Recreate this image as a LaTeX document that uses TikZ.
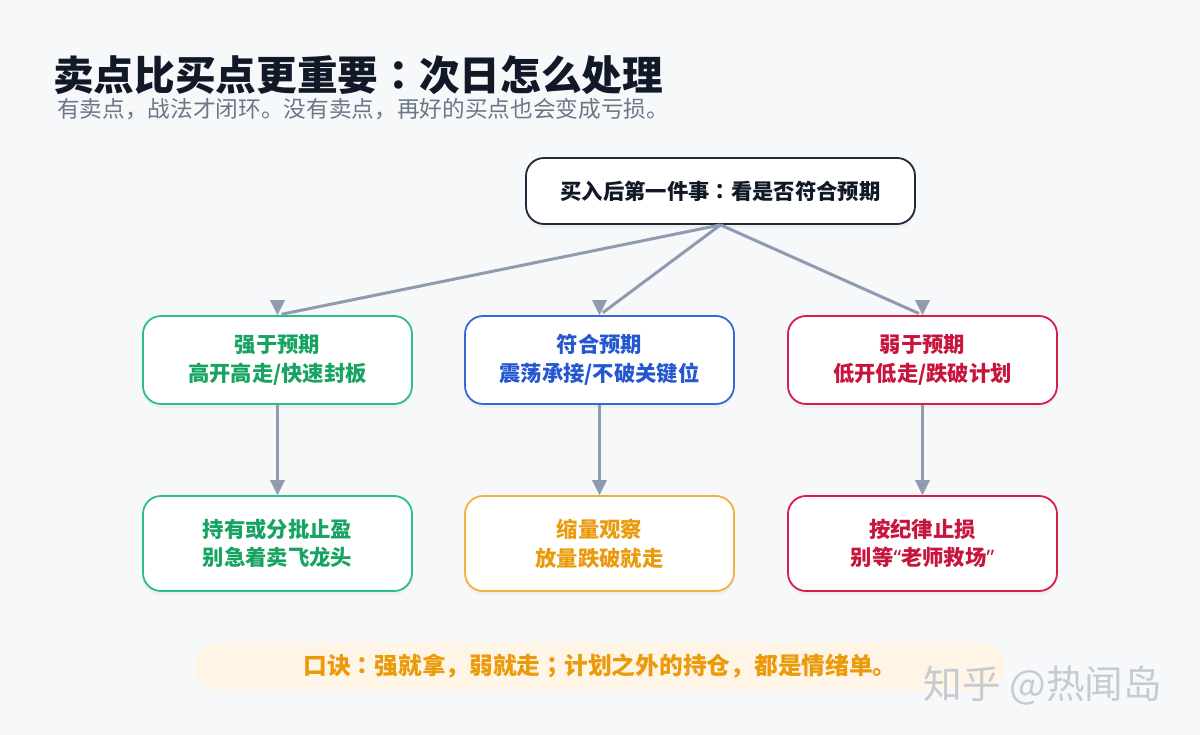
\documentclass[tikz,border=0pt]{standalone}
\usepackage{fontspec}
\setmainfont{Noto Sans CJK SC}
\newfontfamily\tcf{Noto Sans CJK TC}
\newfontfamily\latq{Noto Sans}
\newcommand{\ccolon}{{\tcf ：}}
\newcommand{\csemi}{{\tcf ；}}
\usetikzlibrary{shadows}
\definecolor{bgc}{HTML}{F7F8FA}
\definecolor{titlec}{HTML}{111827}
\definecolor{subc}{HTML}{6B7788}
\definecolor{topc}{HTML}{1F2937}
\definecolor{arrc}{HTML}{8F9BB0}
\definecolor{grnb}{HTML}{2DBE84}
\definecolor{grnt}{HTML}{17A463}
\definecolor{blub}{HTML}{3569D6}
\definecolor{blut}{HTML}{2558D0}
\definecolor{redb}{HTML}{D91C48}
\definecolor{redt}{HTML}{C8153D}
\definecolor{orab}{HTML}{F3B040}
\definecolor{orat}{HTML}{EA9A0B}
\definecolor{banc}{HTML}{FFF5E6}
\definecolor{wmc}{HTML}{C6CBD2}
\begin{document}
\begin{tikzpicture}[x=0.75pt,y=-0.75pt,
  box/.style={draw, fill=white, rounded corners=13.5pt, line width=1.35pt,
    align=center, inner sep=0pt, minimum width=201.75pt,
    font=\bfseries\fontsize{16}{21.5}\selectfont,
    drop shadow={shadow xshift=0pt, shadow yshift=-3pt, opacity=0.07}},
  midbox/.style={box, minimum height=66pt},
  lowbox/.style={box, minimum height=71.25pt},
  conn/.style={draw=arrc, line width=2.25pt, shorten >=3pt},
  tipc/.style={fill=arrc}
]
\fill[bgc] (0,0) rectangle (1200,735);
\useasboundingbox (0,0) rectangle (1200,735);

\node[anchor=west, inner sep=0pt, text=titlec, font=\bfseries\fontsize{30.5}{36}\selectfont] (title) at (53,75) {卖点比买点更重要\ccolon 次日怎么处理};
\node[anchor=west, inner sep=0pt, text=subc, font=\fontsize{17}{20}\selectfont] (sub) at (57,109) {有卖点，战法才闭环。没有卖点，再好的买点也会变成亏损。};

\node[box, draw=topc, text=titlec, minimum width=291.75pt, minimum height=49.5pt] (top) at (720.5,191) {买入后第一件事\ccolon 看是否符合预期};

\node[midbox, draw=grnb, text=grnt] (m1) at (277.5,360) {强于预期\\高开高走/快速封板};
\node[midbox, draw=blub, text=blut] (m2) at (599.5,360) {符合预期\\震荡承接/不破关键位};
\node[midbox, draw=redb, text=redt] (m3) at (922.5,360) {弱于预期\\低开低走/跌破计划};

\node[lowbox, draw=grnb, text=grnt] (b1) at (277.5,543.5) {持有或分批止盈\\别急着卖飞龙头};
\node[lowbox, draw=orab, text=orat] (b2) at (599.5,543.5) {缩量观察\\放量跌破就走};
\node[lowbox, draw=redb, text=redt] (b3) at (922.5,543.5) {按纪律止损\\别等{\latq “}老师救场{\latq ”}};

\foreach \t in {m1,m2,m3} {
  \draw[conn] (top.south) -- (\t.north);
  \fill[tipc] (\t.north) -- ++(-7.5,-15) -- ++(15,0) -- cycle;
}
\foreach \s/\t in {m1/b1,m2/b2,m3/b3} {
  \draw[conn] (\s.south) -- (\t.north);
  \fill[tipc] (\t.north) -- ++(-7.5,-15) -- ++(15,0) -- cycle;
}

\node[fill=banc, rounded corners=18pt, minimum width=607.5pt, minimum height=36pt, inner sep=0pt,
  text=orat, font=\bfseries\fontsize{17.8}{20}\selectfont] (ban) at (600,666) {口诀\ccolon 强就拿，弱就走\csemi 计划之外的持仓，都是情绪单。};

\node[anchor=center, inner sep=0pt, text=wmc, font=\fontsize{29}{32}\selectfont] (wm) at (1043,686) {知乎 @热闻岛};
\end{tikzpicture}
\end{document}
